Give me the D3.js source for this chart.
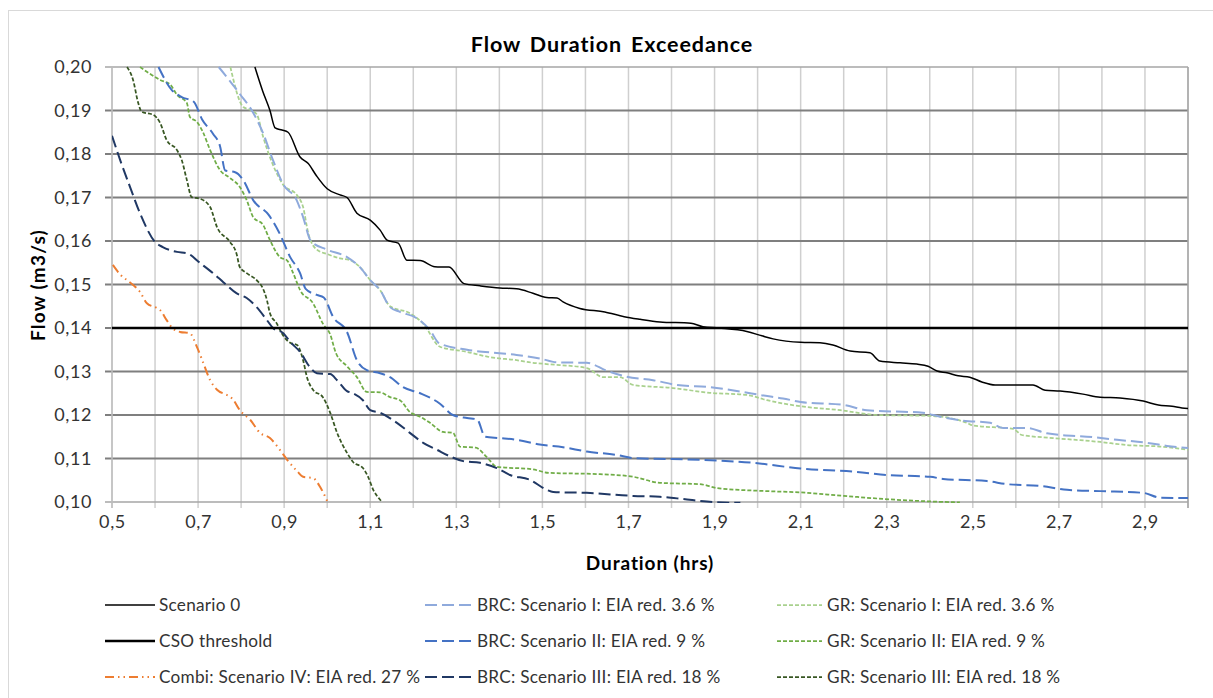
<!DOCTYPE html>
<html>
<head>
<meta charset="utf-8">
<script src="https://cdn.jsdelivr.net/npm/d3@7"></script>
<style>
  html, body { margin: 0; padding: 0; background: #fff; }
  svg { display: block; font-family: Lato, "Open Sans", sans-serif; }
</style>
</head>
<body>
<svg id="chart" width="1213" height="698"></svg>
<script>
// Flow duration curves: [duration (hrs), flow (m3/s)]
const scenario0 = [[0.832,0.200],[0.85,0.1945],[0.867,0.190],[0.879,0.186],[0.895,0.1855],[0.909,0.1850],[0.937,0.1793],[0.956,0.1778],[0.975,0.175],[1.0,0.172],[1.03,0.1706],[1.046,0.1700],[1.069,0.1664],[1.1,0.1648],[1.123,0.1625],[1.139,0.1602],[1.165,0.1595],[1.185,0.1556],[1.216,0.1555],[1.25,0.1541],[1.283,0.1540],[1.318,0.1502],[1.355,0.1497],[1.401,0.1492],[1.44,0.149],[1.478,0.1480],[1.51,0.1470],[1.534,0.1469],[1.548,0.1460],[1.587,0.1445],[1.645,0.1437],[1.69,0.1426],[1.727,0.1420],[1.773,0.1414],[1.845,0.1411],[1.873,0.1403],[1.91,0.1400],[1.975,0.1392],[2.01,0.1382],[2.036,0.1375],[2.1,0.1367],[2.145,0.1366],[2.175,0.1361],[2.215,0.1347],[2.261,0.1343],[2.284,0.1324],[2.331,0.1320],[2.37,0.1317],[2.396,0.1312],[2.417,0.1301],[2.44,0.1297],[2.466,0.1290],[2.493,0.1287],[2.521,0.1276],[2.552,0.1269],[2.64,0.1269],[2.668,0.1257],[2.703,0.1255],[2.756,0.1248],[2.796,0.1241],[2.842,0.1239],[2.896,0.1232],[2.931,0.1223],[2.963,0.1220],[2.986,0.1216],[3.0,0.1215]];

const csoThreshold = [[0.5,0.14],[3.0,0.14]];

const combiIV = [[0.502,0.1545],[0.52,0.1522],[0.535,0.1510],[0.549,0.1499],[0.565,0.1483],[0.581,0.1457],[0.604,0.1446],[0.612,0.1441],[0.627,0.1418],[0.64,0.1400],[0.658,0.1391],[0.681,0.1388],[0.697,0.1357],[0.712,0.1320],[0.728,0.1280],[0.744,0.1258],[0.767,0.1246],[0.781,0.1236],[0.797,0.1211],[0.821,0.1189],[0.844,0.1159],[0.867,0.1147],[0.89,0.1120],[0.907,0.1097],[0.93,0.1071],[0.944,0.1058],[0.967,0.1055],[0.984,0.1034],[1.0,0.1002]];

const brcI = [[0.748,0.200],[0.797,0.1938],[0.828,0.1895],[0.851,0.1848],[0.874,0.1786],[0.898,0.1730],[0.929,0.1694],[0.944,0.1655],[0.962,0.1600],[1.0,0.1580],[1.046,0.1563],[1.076,0.1540],[1.1,0.1510],[1.123,0.1487],[1.146,0.1448],[1.169,0.1437],[1.209,0.1422],[1.239,0.1395],[1.26,0.1365],[1.325,0.1350],[1.40,0.1342],[1.44,0.1338],[1.494,0.1330],[1.534,0.1321],[1.603,0.1320],[1.649,0.1302],[1.696,0.1288],[1.757,0.1280],[1.813,0.1269],[1.889,0.1264],[1.966,0.1253],[2.006,0.1246],[2.059,0.1238],[2.1,0.1230],[2.2,0.1223],[2.254,0.1211],[2.384,0.1205],[2.424,0.1196],[2.477,0.1187],[2.54,0.1182],[2.57,0.1170],[2.626,0.1170],[2.672,0.1158],[2.779,0.1149],[2.835,0.1143],[2.905,0.1136],[2.951,0.1129],[3.0,0.1124]];

const brcII = [[0.608,0.200],[0.639,0.1947],[0.662,0.1931],[0.690,0.1920],[0.709,0.1880],[0.735,0.1846],[0.751,0.1818],[0.763,0.1762],[0.786,0.1758],[0.805,0.1740],[0.828,0.1694],[0.864,0.1660],[0.888,0.1620],[0.914,0.1563],[0.937,0.1526],[0.950,0.1490],[0.976,0.1476],[0.992,0.1470],[1.014,0.1425],[1.046,0.1391],[1.069,0.1326],[1.092,0.1303],[1.123,0.1296],[1.146,0.1287],[1.176,0.1264],[1.216,0.1250],[1.262,0.1226],[1.292,0.1200],[1.325,0.1193],[1.348,0.1190],[1.367,0.1150],[1.40,0.1147],[1.44,0.1143],[1.494,0.1132],[1.548,0.1126],[1.603,0.1116],[1.673,0.1108],[1.711,0.1101],[1.866,0.1097],[1.99,0.1090],[2.1,0.1077],[2.23,0.1069],[2.3,0.1062],[2.401,0.1058],[2.431,0.1053],[2.533,0.1048],[2.58,0.1041],[2.656,0.1037],[2.719,0.1028],[2.796,0.1025],[2.896,0.1021],[2.935,0.1010],[3.0,0.1009]];

const brcIII = [[0.5,0.1842],[0.519,0.1786],[0.542,0.1724],[0.565,0.1664],[0.6,0.1598],[0.618,0.1586],[0.651,0.1575],[0.674,0.1572],[0.705,0.1549],[0.735,0.1526],[0.758,0.1506],[0.789,0.1480],[0.813,0.1469],[0.836,0.1448],[0.86,0.1418],[0.874,0.1400],[0.898,0.1388],[0.914,0.1368],[0.937,0.1345],[0.96,0.1310],[0.976,0.1296],[1.007,0.1294],[1.023,0.1280],[1.046,0.1255],[1.06,0.1250],[1.083,0.1234],[1.1,0.1211],[1.123,0.1205],[1.162,0.1182],[1.192,0.1159],[1.223,0.1136],[1.255,0.1120],[1.285,0.1105],[1.316,0.1094],[1.355,0.1090],[1.394,0.1078],[1.425,0.1062],[1.471,0.1051],[1.51,0.1028],[1.525,0.1023],[1.603,0.1021],[1.711,0.1014],[1.773,0.1012],[1.826,0.1007],[1.882,0.1001],[1.96,0.0998]];

const grI = [[0.775,0.200],[0.805,0.1908],[0.825,0.1900],[0.837,0.1890],[0.851,0.1840],[0.874,0.1775],[0.898,0.1729],[0.93,0.1705],[0.944,0.1678],[0.956,0.1618],[0.976,0.1580],[1.0,0.1570],[1.03,0.1560],[1.053,0.1556],[1.076,0.1540],[1.1,0.1510],[1.123,0.1487],[1.146,0.1450],[1.192,0.1434],[1.223,0.1410],[1.262,0.1357],[1.325,0.1345],[1.378,0.1333],[1.44,0.1326],[1.478,0.1320],[1.51,0.1317],[1.603,0.1308],[1.641,0.1287],[1.68,0.1287],[1.711,0.1269],[1.803,0.1262],[1.889,0.1251],[1.975,0.1246],[2.022,0.1234],[2.1,0.1220],[2.192,0.1211],[2.278,0.1200],[2.401,0.1198],[2.486,0.1182],[2.5,0.1176],[2.594,0.1168],[2.614,0.1154],[2.687,0.1147],[2.796,0.1138],[2.858,0.1131],[2.942,0.1127],[3.0,0.1120]];

const grII = [[0.565,0.200],[0.581,0.1989],[0.612,0.1970],[0.635,0.1960],[0.651,0.1936],[0.674,0.1917],[0.681,0.1885],[0.697,0.1874],[0.711,0.1851],[0.728,0.1809],[0.751,0.1763],[0.774,0.1745],[0.797,0.1724],[0.813,0.1694],[0.828,0.1655],[0.851,0.1637],[0.867,0.1602],[0.89,0.1563],[0.907,0.1555],[0.921,0.1526],[0.937,0.1487],[0.967,0.1457],[0.99,0.1410],[1.007,0.1385],[1.02,0.1343],[1.046,0.1312],[1.069,0.1287],[1.092,0.1253],[1.123,0.1252],[1.146,0.1241],[1.169,0.1234],[1.192,0.1207],[1.216,0.1196],[1.239,0.1182],[1.269,0.1161],[1.292,0.1159],[1.309,0.1127],[1.345,0.1125],[1.371,0.1103],[1.394,0.1081],[1.478,0.1075],[1.515,0.1067],[1.634,0.1064],[1.711,0.1058],[1.773,0.1044],[1.866,0.1041],[1.906,0.1032],[2.022,0.1025],[2.1,0.1022],[2.2,0.1014],[2.293,0.1007],[2.408,0.1001],[2.47,0.0999]];

const grIII = [[0.535,0.200],[0.549,0.1970],[0.561,0.1917],[0.569,0.1897],[0.596,0.1890],[0.612,0.1871],[0.627,0.1832],[0.651,0.1809],[0.662,0.1786],[0.674,0.1740],[0.685,0.1701],[0.705,0.1697],[0.728,0.1678],[0.744,0.1632],[0.774,0.1598],[0.789,0.1572],[0.797,0.1540],[0.813,0.1526],[0.836,0.1510],[0.851,0.1490],[0.86,0.1464],[0.867,0.1434],[0.883,0.1410],[0.898,0.1382],[0.914,0.1366],[0.93,0.1361],[0.944,0.1326],[0.953,0.1287],[0.967,0.1258],[0.99,0.1241],[1.007,0.1205],[1.023,0.1159],[1.046,0.1113],[1.06,0.1092],[1.083,0.1078],[1.095,0.1058],[1.107,0.1028],[1.123,0.1005],[1.127,0.1000]];

// Axis ticks
const xTicks = [0.5,0.6,0.7,0.8,0.9,1.0,1.1,1.2,1.3,1.4,1.5,1.6,1.7,1.8,1.9,2.0,2.1,2.2,2.3,2.4,2.5,2.6,2.7,2.8,2.9,3.0];
const xLabelTicks = [0.5,0.7,0.9,1.1,1.3,1.5,1.7,1.9,2.1,2.3,2.5,2.7,2.9];
const yTicks = [0.10,0.11,0.12,0.13,0.14,0.15,0.16,0.17,0.18,0.19,0.20];

// Series definitions (drawing order: back to front)
const seriesList = [
  { name: "GR: Scenario III: EIA red. 18 %", data: grIII, color: "#385723", width: 1.75, dash: "4,2", col: 2, row: 2 },
  { name: "GR: Scenario II: EIA red. 9 %", data: grII, color: "#70AD47", width: 1.75, dash: "4,2", col: 2, row: 1 },
  { name: "GR: Scenario I: EIA red. 3.6 %", data: grI, color: "#A9D18E", width: 1.75, dash: "4,2", col: 2, row: 0 },
  { name: "BRC: Scenario III: EIA red. 18 %", data: brcIII, color: "#203864", width: 2, dash: "12,5", col: 1, row: 2 },
  { name: "BRC: Scenario II: EIA red. 9 %", data: brcII, color: "#4472C4", width: 2, dash: "12,5", col: 1, row: 1 },
  { name: "BRC: Scenario I: EIA red. 3.6 %", data: brcI, color: "#8FAADC", width: 2, dash: "12,5", col: 1, row: 0 },
  { name: "Combi: Scenario IV: EIA red. 27 %", data: combiIV, color: "#ED7D31", width: 2, dash: "9,4,1.5,4,1.5,4", col: 0, row: 2 },
  { name: "CSO threshold", data: csoThreshold, color: "#000000", width: 2.6, dash: null, col: 0, row: 1 },
  { name: "Scenario 0", data: scenario0, color: "#000000", width: 1.5, dash: null, col: 0, row: 0 }
];

const svg = d3.select("#chart");
const m = { left: 112, right: 1188, top: 67, bottom: 502 };
const FONT = "Lato, 'Open Sans', sans-serif";

// outer chart frame
svg.append("rect")
  .attr("x", 8.5).attr("y", 10.5)
  .attr("width", 1210).attr("height", 700)
  .attr("fill", "#fff").attr("stroke", "#d9d9d9").attr("stroke-width", 1);

const x = d3.scaleLinear().domain([0.5, 3.0]).range([m.left, m.right]);
const y = d3.scaleLinear().domain([0.10, 0.20]).range([m.bottom, m.top]);

// vertical grid
svg.append("g").selectAll("line").data(xTicks).join("line")
  .attr("x1", d => x(d)).attr("x2", d => x(d))
  .attr("y1", m.top).attr("y2", m.bottom + 6)
  .attr("stroke", "#cfcfcf").attr("stroke-width", 1.5);

// horizontal grid
svg.append("g").selectAll("line").data(yTicks).join("line")
  .attr("x1", m.left - 7).attr("x2", m.right)
  .attr("y1", d => y(d)).attr("y2", d => y(d))
  .attr("stroke", d => (d > 0.1 && d < 0.2) ? "#7f7f7f" : "#a6a6a6")
  .attr("stroke-width", d => (d > 0.1 && d < 0.2) ? 2 : 1.5);

// plot frame (left and right)
svg.append("line").attr("x1", m.left).attr("x2", m.left).attr("y1", m.top).attr("y2", m.bottom + 6)
  .attr("stroke", "#bfbfbf").attr("stroke-width", 1.5);
svg.append("line").attr("x1", m.right).attr("x2", m.right).attr("y1", m.top).attr("y2", m.bottom + 6)
  .attr("stroke", "#a6a6a6").attr("stroke-width", 1.5);

// axes (labels only, lines handled by grid)
const xAxis = d3.axisBottom(x).tickValues(xLabelTicks).tickSize(0).tickPadding(13)
  .tickFormat(d => d.toFixed(1).replace(".", ","));
const yAxis = d3.axisLeft(y).tickValues(yTicks).tickSize(0).tickPadding(20)
  .tickFormat(d => d.toFixed(2).replace(".", ","));

const gx = svg.append("g").attr("transform", `translate(0,${m.bottom})`).call(xAxis);
const gy = svg.append("g").attr("transform", `translate(${m.left},0)`).call(yAxis);
[gx, gy].forEach(g => {
  g.select(".domain").remove();
  g.selectAll("text").attr("font-family", FONT)
    .attr("font-size", 18).attr("letter-spacing", 0.6).attr("fill", "#333");
});

// clip for curves
svg.append("clipPath").attr("id", "plotClip").append("rect")
  .attr("x", m.left).attr("y", m.top - 1).attr("width", m.right - m.left).attr("height", m.bottom - m.top + 2);

const line = d3.line().x(d => x(d[0])).y(d => y(d[1])).curve(d3.curveMonotoneX);

const gLines = svg.append("g").attr("clip-path", "url(#plotClip)");
seriesList.forEach(s => {
  gLines.append("path")
    .datum(s.data)
    .attr("d", line)
    .attr("fill", "none")
    .attr("stroke", s.color)
    .attr("stroke-width", s.width)
    .attr("stroke-dasharray", s.dash)
    .attr("stroke-linejoin", "round");
});

// title
svg.append("text").attr("x", 612).attr("y", 52).attr("text-anchor", "middle")
  .attr("font-size", 21.5).attr("font-weight", "bold").attr("letter-spacing", 0.9)
  .attr("word-spacing", 3).attr("fill", "#000")
  .text("Flow Duration Exceedance");

// axis titles
svg.append("text").attr("x", 650).attr("y", 570).attr("text-anchor", "middle")
  .attr("font-size", 19).attr("font-weight", "bold").attr("letter-spacing", 0.9).attr("fill", "#000")
  .text("Duration (hrs)");
svg.append("text").attr("transform", "translate(45,285) rotate(-90)").attr("text-anchor", "middle")
  .attr("font-size", 19).attr("font-weight", "bold").attr("letter-spacing", 1.2).attr("fill", "#000")
  .text("Flow (m3/s)");

// legend
const legCols = [{ x1: 105, x2: 155, tx: 159 }, { x1: 425, x2: 473, tx: 477 }, { x1: 777, x2: 822, tx: 827 }];
const legRows = [605, 641, 677];
const gLeg = svg.append("g");
seriesList.forEach(s => {
  const c = legCols[s.col], r = legRows[s.row];
  gLeg.append("line")
    .attr("x1", c.x1).attr("x2", c.x2).attr("y1", r).attr("y2", r)
    .attr("stroke", s.color).attr("stroke-width", s.width)
    .attr("stroke-dasharray", s.dash);
  gLeg.append("text").attr("x", c.tx).attr("y", r).attr("dy", "0.36em")
    .attr("font-size", 17.2).attr("letter-spacing", 0.25).attr("fill", "#333").text(s.name);
});
</script>
</body>
</html>
